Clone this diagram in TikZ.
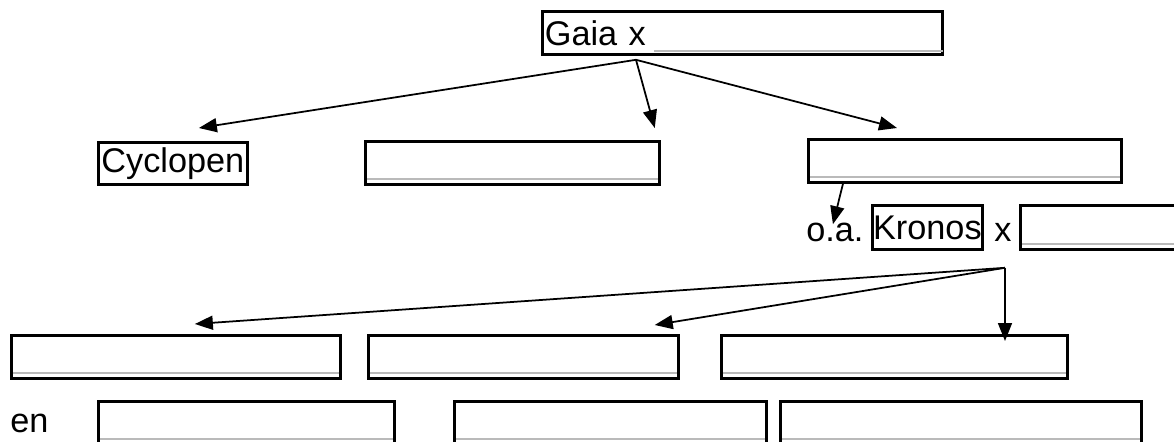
\documentclass[tikz,border=0pt]{standalone}
\usepackage{fontspec}
\setmainfont{Liberation Sans}
\usetikzlibrary{calc,arrows.meta}

\tikzset{
    vak/.style={draw,line width=1.6pt,anchor=north west,inner sep=0pt,minimum height=0.86cm},
    leeg/.style={vak,path picture={\draw[grijs] ([yshift=0.1cm]path picture bounding box.south west) -- ([yshift=0.1cm]path picture bounding box.south east);}},
    grijs/.style={black!27,line width=1.2pt},
    pijl/.style={-{Triangle[length=0.36cm,width=0.28cm]},line width=1pt},
    los/.style={anchor=base west,inner sep=0pt}
}

\begin{document}
\begin{tikzpicture}[x=0.02cm,y=-0.02cm,font=\fontsize{19.5}{24}\selectfont]
    \useasboundingbox (0,0) rectangle (1174,442);
    \clip (0,0) rectangle (1174,442);

    \node[vak,minimum width=8cm,text width=7.9cm,inner xsep=0.05cm,align=left] (gaia) at (541,10) {Gaia x};
    \draw[grijs] ($(gaia.south west)+(113,-5)$) -- ($(gaia.south east)+(-1,-5)$);

    \node[vak,minimum width=2.98cm,minimum height=0.84cm] (cyc) at (97,141) {Cyclopen};
    \node[leeg,minimum width=5.88cm] (b) at (364,140) {};
    \node[leeg,minimum width=6.26cm] (c) at (807,138) {};

    \node[los] (oa) at (806,242) {o.a.};
    \node[vak,minimum width=2.2cm,minimum height=0.88cm] (kronos) at (871,204) {Kronos};
    \node[los] (x2) at (994,242) {x};
    \node[leeg,minimum width=3.4cm,minimum height=0.88cm] (rhea) at (1019,204) {};

    \node[leeg,minimum width=6.58cm] (r1) at (10,334) {};
    \node[leeg,minimum width=6.2cm] (r2) at (367,334) {};
    \node[leeg,minimum width=6.92cm] (r3) at (720,334) {};

    \node[los] (en) at (10,433) {en};
    \node[leeg,minimum width=5.92cm,minimum height=0.86cm] (s1) at (97,400) {};
    \node[leeg,minimum width=6.24cm,minimum height=0.86cm] (s2) at (453,400) {};
    \node[leeg,minimum width=7.22cm,minimum height=0.86cm] (s3) at (779,400) {};

    \coordinate (g0) at ($(gaia.south west)+(95,4)$);
    \coordinate (k0) at ($(rhea.south west)+(-14,17)$);

    \draw[pijl] (g0) -- ($(cyc.north)+(26,-13)$);
    \draw[pijl] (g0) -- ($(b.north east)+(-6,-12)$);
    \draw[pijl] (g0) -- ($(c.north west)+(90,-10)$);
    \draw[pijl] ($(c.south west)+(36,0)$) -- ($(oa.north)+(-2,1)$);

    \draw[pijl] (k0) -- ($(r1.north)+(19,-10)$);
    \draw[pijl] (k0) -- ($(r2.north east)+(-25,-9)$);
    \draw[pijl] (k0) -- ($(k0 |- r3.north)+(0,7)$);
\end{tikzpicture}
\end{document}
